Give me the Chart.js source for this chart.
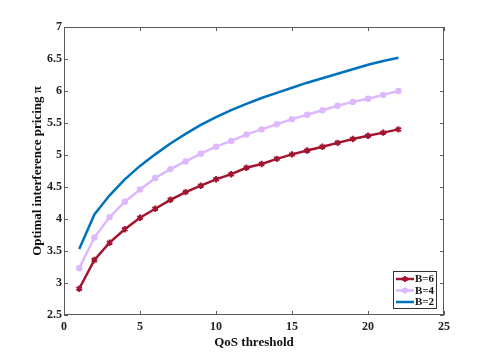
<!DOCTYPE html>
<html>
<head>
<meta charset="utf-8">
<script src="https://cdn.jsdelivr.net/npm/chart.js@4/dist/chart.umd.min.js"></script>
<style>
  html, body { margin: 0; padding: 0; background: #fff; }
  #wrap { width: 491px; height: 354px; }
</style>
</head>
<body>
<div id="wrap"><canvas id="chart" width="491" height="354"></canvas></div>
<script>
// QoS threshold values
const qos = [1, 2, 3, 4, 5, 6, 7, 8, 9, 10, 11, 12, 13, 14, 15, 16, 17, 18, 19, 20, 21, 22];

// optimal pricing per bandwidth setting
const priceB6 = [2.91, 3.36, 3.63, 3.84, 4.02, 4.16, 4.30, 4.42, 4.52, 4.62, 4.70, 4.80, 4.86, 4.94, 5.01, 5.07, 5.13, 5.19, 5.25, 5.30, 5.35, 5.40];
const priceB4 = [3.23, 3.71, 4.03, 4.27, 4.46, 4.64, 4.78, 4.90, 5.02, 5.13, 5.22, 5.32, 5.40, 5.48, 5.56, 5.63, 5.70, 5.77, 5.83, 5.88, 5.94, 6.00];
const priceB2 = [3.53, 4.07, 4.37, 4.62, 4.83, 5.01, 5.18, 5.33, 5.47, 5.59, 5.70, 5.80, 5.89, 5.97, 6.05, 6.13, 6.20, 6.27, 6.34, 6.41, 6.47, 6.52];

const xTicks = [0, 5, 10, 15, 20, 25];
const yTicks = [2.5, 3, 3.5, 4, 4.5, 5, 5.5, 6, 6.5, 7];

const seriesNames = ['B=6', 'B=4', 'B=2'];
const colors = ['#A2142F', '#DDB8FF', '#0072BD'];

const FONT = '"Liberation Serif", "Times New Roman", serif';
const AXIS = '#5a5a5a';

function toPoints(ys) {
    return qos.map((q, i) => ({ x: q, y: ys[i] }));
}

// star marker like matlab '*'
function drawStar(ctx, x, y, r) {
    ctx.beginPath();
    for (let k = 0; k < 3; k++) {
        const a = Math.PI / 2 + k * Math.PI / 3;
        ctx.moveTo(x + r * Math.cos(a), y - r * Math.sin(a));
        ctx.lineTo(x - r * Math.cos(a), y + r * Math.sin(a));
    }
    ctx.stroke();
}

// box, inward ticks and the legend inside the axes
const matlabAxes = {
    id: 'matlabAxes',
    afterDatasetsDraw(chart) {
        const { ctx, chartArea: a, scales } = chart;
        ctx.save();
        ctx.strokeStyle = AXIS;
        ctx.lineWidth = 1;
        ctx.strokeRect(a.left + 0.5, a.top + 0.5, a.right - a.left - 1, a.bottom - a.top - 1);
        ctx.beginPath();
        xTicks.forEach(t => {
            const px = Math.round(scales.x.getPixelForValue(t)) + 0.5;
            ctx.moveTo(px, a.bottom); ctx.lineTo(px, a.bottom - 4);
            ctx.moveTo(px, a.top); ctx.lineTo(px, a.top + 4);
        });
        yTicks.forEach(t => {
            const py = Math.round(scales.y.getPixelForValue(t)) + 0.5;
            ctx.moveTo(a.left, py); ctx.lineTo(a.left + 4, py);
            ctx.moveTo(a.right, py); ctx.lineTo(a.right - 4, py);
        });
        ctx.stroke();

        // legend box
        const lx = 393, ly = 271, lw = 44, lh = 38;
        ctx.fillStyle = '#fff';
        ctx.fillRect(lx, ly, lw, lh);
        ctx.strokeStyle = '#333';
        ctx.strokeRect(lx + 0.5, ly + 0.5, lw - 1, lh - 1);
        ctx.font = 'bold 11px ' + FONT;
        ctx.textBaseline = 'middle';
        seriesNames.forEach((name, i) => {
            const yy = ly + 8 + i * 11.5;
            ctx.strokeStyle = colors[i];
            ctx.lineWidth = 2.5;
            ctx.beginPath();
            ctx.moveTo(lx + 3, yy); ctx.lineTo(lx + 21, yy);
            ctx.stroke();
            if (i === 0) {
                ctx.lineWidth = 2;
                drawStar(ctx, lx + 12, yy, 3);
            } else if (i === 1) {
                ctx.fillStyle = colors[i];
                ctx.beginPath();
                ctx.arc(lx + 12, yy, 3, 0, Math.PI * 2);
                ctx.fill();
            }
            ctx.fillStyle = '#111';
            ctx.fillText(name, lx + 22, yy + 0.5);
        });
        ctx.restore();
    }
};

// red series markers drawn as asterisks
const starMarkers = {
    id: 'starMarkers',
    afterDatasetsDraw(chart) {
        const meta = chart.getDatasetMeta(0);
        const ctx = chart.ctx;
        ctx.save();
        ctx.strokeStyle = colors[0];
        ctx.lineWidth = 2;
        meta.data.forEach(p => drawStar(ctx, p.x, p.y, 3.2));
        ctx.restore();
    }
};

new Chart(document.getElementById('chart').getContext('2d'), {
    type: 'line',
    data: {
        datasets: [
            {
                label: seriesNames[0],
                data: toPoints(priceB6),
                borderColor: colors[0],
                backgroundColor: colors[0],
                borderWidth: 2.5,
                pointRadius: 0,
                tension: 0
            },
            {
                label: seriesNames[1],
                data: toPoints(priceB4),
                borderColor: colors[1],
                backgroundColor: colors[1],
                borderWidth: 2.5,
                pointRadius: 3.2,
                pointBorderWidth: 0,
                pointStyle: 'circle',
                tension: 0
            },
            {
                label: seriesNames[2],
                data: toPoints(priceB2),
                borderColor: colors[2],
                backgroundColor: colors[2],
                borderWidth: 2.5,
                pointRadius: 0,
                tension: 0
            }
        ]
    },
    options: {
        responsive: false,
        animation: false,
        layout: { padding: { top: 27, right: 47, left: 30, bottom: 0 } },
        plugins: {
            legend: { display: false },
            tooltip: { enabled: false }
        },
        scales: {
            x: {
                type: 'linear',
                min: 0,
                max: 25,
                afterBuildTicks: s => { s.ticks = xTicks.map(v => ({ value: v })); },
                afterFit: s => { s.height = 39; },
                grid: { display: false, drawTicks: false },
                border: { display: false },
                ticks: {
                    color: '#222', padding: 5,
                    font: { family: FONT, size: 12, weight: 'bold' },
                    callback: v => String(v)
                },
                title: {
                    display: true,
                    text: 'QoS threshold',
                    color: '#111',
                    padding: { top: 0 },
                    font: { family: FONT, size: 13, weight: 'bold' }
                }
            },
            y: {
                min: 2.5,
                max: 7,
                afterBuildTicks: s => { s.ticks = yTicks.map(v => ({ value: v })); },
                afterFit: s => { s.width = 34; },
                grid: { display: false, drawTicks: false },
                border: { display: false },
                ticks: {
                    color: '#222', padding: 2,
                    font: { family: FONT, size: 12, weight: 'bold' },
                    callback: v => String(v)
                },
                title: {
                    display: true,
                    text: 'Optimal interference pricing π',
                    color: '#111',
                    padding: { top: 0, bottom: 0 },
                    font: { family: FONT, size: 13, weight: 'bold' }
                }
            }
        }
    },
    plugins: [matlabAxes, starMarkers]
});
</script>
</body>
</html>
